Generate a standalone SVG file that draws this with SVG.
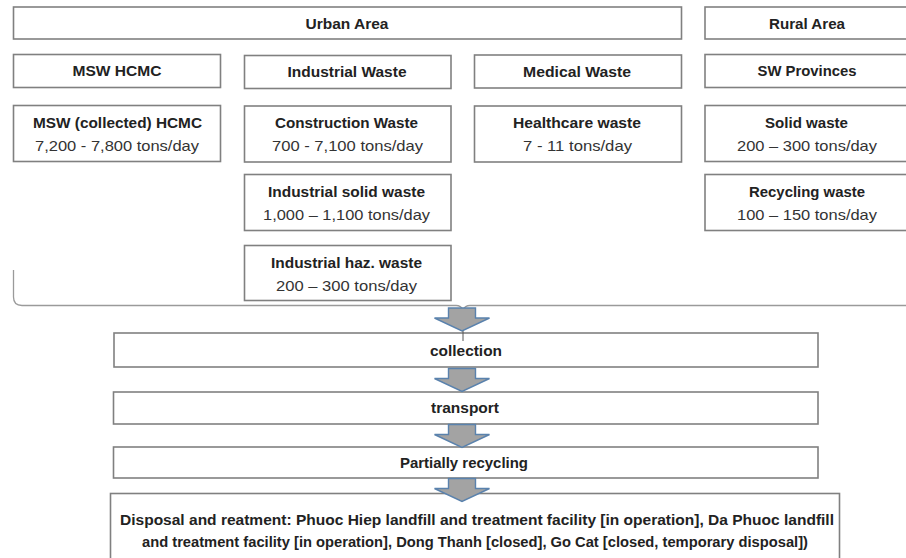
<svg xmlns="http://www.w3.org/2000/svg" width="906" height="558" viewBox="0 0 906 558">
  <style>
    .box { fill: #ffffff; stroke: #808080; stroke-width: 1.6; }
    .t { font-family: "Liberation Sans", Arial, sans-serif; font-size: 15px; font-weight: bold; fill: #222222; text-anchor: middle; }
    .v { font-family: "Liberation Sans", Arial, sans-serif; font-size: 15px; fill: #333333; text-anchor: middle; }
    .d { font-family: "Liberation Sans", Arial, sans-serif; font-size: 14.5px; font-weight: bold; fill: #222222; text-anchor: middle; }
    .arrow { fill: #a3a3a3; stroke: #5a82ad; stroke-width: 1.4; stroke-linejoin: miter; }
    .brace { fill: none; stroke: #9a9a9a; stroke-width: 1.3; }
  </style>
  <defs>
    <!-- block arrow pointing down; origin at top centre of the shaft -->
    <path id="blockArrow" class="arrow" d="M -13.5 0 L 13.5 0 L 13.5 10 L 27.5 10 L 0 23 L -27.5 10 L -13.5 10 Z"/>
  </defs>
  <rect width="906" height="558" fill="#ffffff"/>

  <!-- area headers -->
  <g id="urban-area">
    <rect class="box" x="13.5" y="7" width="668" height="32"/>
    <text class="t" x="347" y="29" textLength="83" lengthAdjust="spacingAndGlyphs">Urban Area</text>
  </g>
  <g id="rural-area">
    <rect class="box" x="705" y="7" width="210" height="32"/>
    <text class="t" x="807" y="29" textLength="76" lengthAdjust="spacingAndGlyphs">Rural Area</text>
  </g>

  <!-- waste categories -->
  <g id="msw-hcmc">
    <rect class="box" x="13.5" y="54.5" width="207" height="33"/>
    <text class="t" x="117" y="76" textLength="89" lengthAdjust="spacingAndGlyphs">MSW HCMC</text>
  </g>
  <g id="industrial-waste">
    <rect class="box" x="244.5" y="55.5" width="206.5" height="33"/>
    <text class="t" x="347" y="77" textLength="119" lengthAdjust="spacingAndGlyphs">Industrial Waste</text>
  </g>
  <g id="medical-waste">
    <rect class="box" x="474.5" y="55" width="207" height="33"/>
    <text class="t" x="577" y="77" textLength="108" lengthAdjust="spacingAndGlyphs">Medical Waste</text>
  </g>
  <g id="sw-provinces">
    <rect class="box" x="705" y="54.5" width="210" height="33"/>
    <text class="t" x="807" y="76" textLength="99" lengthAdjust="spacingAndGlyphs">SW Provinces</text>
  </g>

  <!-- quantities -->
  <g id="msw-collected">
    <rect class="box" x="13.5" y="105.5" width="207" height="56"/>
    <text class="t" x="117.5" y="128" textLength="169" lengthAdjust="spacingAndGlyphs">MSW (collected) HCMC</text>
    <text class="v" x="117" y="151" textLength="164" lengthAdjust="spacingAndGlyphs">7,200 - 7,800 tons/day</text>
  </g>
  <g id="construction-waste">
    <rect class="box" x="244.5" y="106" width="206.5" height="56"/>
    <text class="t" x="346.5" y="128" textLength="143" lengthAdjust="spacingAndGlyphs">Construction Waste</text>
    <text class="v" x="347.5" y="151" textLength="151" lengthAdjust="spacingAndGlyphs">700 - 7,100 tons/day</text>
  </g>
  <g id="healthcare-waste">
    <rect class="box" x="474.5" y="106" width="207" height="56"/>
    <text class="t" x="577" y="128" textLength="128" lengthAdjust="spacingAndGlyphs">Healthcare waste</text>
    <text class="v" x="577.5" y="150.5" textLength="109" lengthAdjust="spacingAndGlyphs">7 - 11 tons/day</text>
  </g>
  <g id="solid-waste">
    <rect class="box" x="705" y="105.5" width="210" height="56"/>
    <text class="t" x="806.5" y="128" textLength="83" lengthAdjust="spacingAndGlyphs">Solid waste</text>
    <text class="v" x="807" y="150.5" textLength="140" lengthAdjust="spacingAndGlyphs">200 – 300 tons/day</text>
  </g>
  <g id="industrial-solid-waste">
    <rect class="box" x="244.5" y="174.5" width="206.5" height="56"/>
    <text class="t" x="346.5" y="197" textLength="157" lengthAdjust="spacingAndGlyphs">Industrial solid waste</text>
    <text class="v" x="346.5" y="220" textLength="167" lengthAdjust="spacingAndGlyphs">1,000 – 1,100 tons/day</text>
  </g>
  <g id="recycling-waste">
    <rect class="box" x="705" y="174.5" width="210" height="56"/>
    <text class="t" x="807" y="197" textLength="116" lengthAdjust="spacingAndGlyphs">Recycling waste</text>
    <text class="v" x="807" y="220" textLength="140" lengthAdjust="spacingAndGlyphs">100 – 150 tons/day</text>
  </g>
  <g id="industrial-haz-waste">
    <rect class="box" x="244.5" y="245.5" width="206.5" height="55"/>
    <text class="t" x="346.5" y="268" textLength="151" lengthAdjust="spacingAndGlyphs">Industrial haz. waste</text>
    <text class="v" x="346.5" y="290.5" textLength="141" lengthAdjust="spacingAndGlyphs">200 – 300 tons/day</text>
  </g>

  <!-- process chain -->
  <g id="collection">
    <rect class="box" x="114" y="333" width="704" height="34"/>
    <text class="t" x="466" y="356" textLength="72" lengthAdjust="spacingAndGlyphs">collection</text>
  </g>
  <g id="transport">
    <rect class="box" x="113.5" y="392" width="704.5" height="32"/>
    <text class="t" x="465" y="413" textLength="68" lengthAdjust="spacingAndGlyphs">transport</text>
  </g>
  <g id="partially-recycling">
    <rect class="box" x="113.5" y="447" width="704.5" height="31"/>
    <text class="t" x="464" y="467.5" textLength="128" lengthAdjust="spacingAndGlyphs">Partially recycling</text>
  </g>
  <g id="disposal">
    <rect class="box" x="110.5" y="493.5" width="729" height="70"/>
    <text class="d" x="477" y="525" textLength="714" lengthAdjust="spacingAndGlyphs">Disposal and reatment: Phuoc Hiep landfill and treatment facility [in operation], Da Phuoc landfill</text>
    <text class="d" x="475" y="547" textLength="666" lengthAdjust="spacingAndGlyphs">and treatment facility [in operation], Dong Thanh [closed], Go Cat [closed, temporary disposal])</text>
  </g>

  <!-- connectors: gathering brace and block arrows -->
  <g id="connectors">
    <path class="brace" d="M 13.5 270 L 13.5 297 Q 13.5 305.5 22 305.5 L 456 305.5 Q 461 305.5 463 310 Q 465 305.5 470 305.5 L 910 305.5"/>
    <use href="#blockArrow" x="462" y="308"/>
    <line x1="463" y1="331" x2="463" y2="341" stroke="#555555" stroke-width="1"/>
    <use href="#blockArrow" x="462" y="368.5"/>
    <use href="#blockArrow" x="462" y="424.5"/>
    <use href="#blockArrow" x="462" y="478.5"/>
  </g>
</svg>
